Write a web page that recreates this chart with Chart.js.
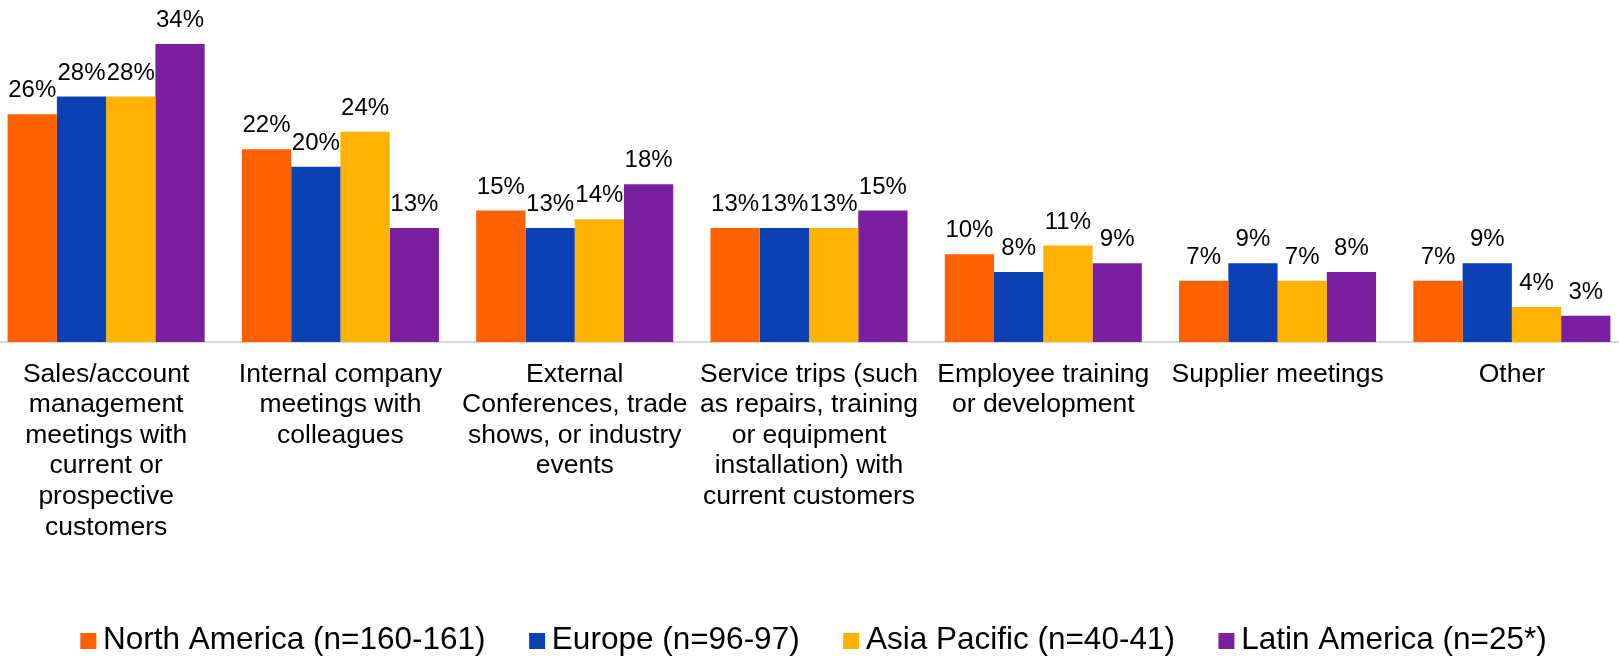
<!DOCTYPE html>
<html>
<head>
<meta charset="utf-8">
<script src="https://cdn.jsdelivr.net/npm/chart.js@4/dist/chart.umd.min.js"></script>
<style>
  html, body { margin: 0; padding: 0; background: #ffffff; overflow: hidden; width: 1619px; height: 660px; }
  #wrap { position: absolute; left: -11px; top: 0; width: 1654px; height: 660px; }
  canvas { display: block; }
</style>
</head>
<body>
<div id="wrap"><canvas id="c" width="1654" height="660"></canvas></div>
<script>
const categories = [
  ["Sales/account", "management", "meetings with", "current or", "prospective", "customers"],
  ["Internal company", "meetings with", "colleagues"],
  ["External", "Conferences, trade", "shows, or industry", "events"],
  ["Service trips (such", "as repairs, training", "or equipment", "installation) with", "current customers"],
  ["Employee training", "or development"],
  ["Supplier meetings"],
  ["Other"]
];
const seriesNames = ["North America (n=160-161)", "Europe (n=96-97)", "Asia Pacific (n=40-41)", "Latin America (n=25*)"];
const northAmerica = [26, 22, 15, 13, 10, 7, 7];
const europe       = [28, 20, 13, 13, 8, 9, 9];
const asiaPacific  = [28, 24, 14, 13, 11, 7, 4];
const latinAmerica = [34, 13, 18, 15, 9, 8, 3];
const seriesColors = ["#FF6100", "#0B41B5", "#FFB300", "#7A1FA0"];

const FONT = "'Liberation Sans', Arial, Helvetica, sans-serif";

// legend swatch images: 16x16 square placed inside a wider transparent canvas
function swatch(color) {
  const c = document.createElement('canvas');
  c.width = 36; c.height = 16;
  const g = c.getContext('2d');
  g.fillStyle = color;
  g.fillRect(12, 0, 16, 16);
  return c;
}
const swatches = seriesColors.map(swatch);

const valueLabels = {
  id: 'valueLabels',
  afterDatasetsDraw(chart) {
    const ctx = chart.ctx;
    ctx.save();
    ctx.font = "24px " + FONT;
    ctx.fillStyle = "#000000";
    ctx.textAlign = "center";
    ctx.textBaseline = "alphabetic";
    chart.data.datasets.forEach((ds, di) => {
      const meta = chart.getDatasetMeta(di);
      meta.data.forEach((bar, i) => {
        ctx.fillText(ds.data[i] + "%", bar.x, bar.y - 17);
      });
    });
    ctx.restore();
  }
};

const allSeries = [northAmerica, europe, asiaPacific, latinAmerica];

new Chart(document.getElementById('c'), {
  type: 'bar',
  data: {
    labels: categories,
    datasets: allSeries.map((d, i) => ({
      label: seriesNames[i],
      data: d,
      backgroundColor: seriesColors[i],
      borderWidth: 0,
      categoryPercentage: 0.841,
      barPercentage: 1.0
    }))
  },
  options: {
    responsive: false,
    animation: false,
    devicePixelRatio: 1,
    layout: { padding: { top: 26.5, left: 0, right: 0, bottom: 0 } },
    plugins: {
      tooltip: { enabled: false },
      legend: {
        position: 'bottom',
        maxHeight: 83.75,
        labels: {
          font: { family: FONT, size: 31.5 },
          color: '#000000',
          usePointStyle: true,
          boxWidth: 2,
          boxHeight: 16,
          padding: 48.5,
          generateLabels(chart) {
            const items = Chart.defaults.plugins.legend.labels.generateLabels(chart);
            items.forEach((it, i) => { it.pointStyle = swatches[i]; it.lineWidth = 0; });
            return items;
          }
        }
      }
    },
    scales: {
      y: {
        display: true,
        position: 'right',
        min: 0,
        max: 36,
        grid: { display: false, drawTicks: false },
        border: { display: false },
        ticks: { display: false },
        afterFit(scale) { scale.width = 14; }
      },
      x: {
        grid: { display: false, drawTicks: false },
        border: { display: true, color: '#d9d9d9', width: 2 },
        ticks: {
          color: '#000000',
          font: { family: FONT, size: 26.5, lineHeight: 1.155 },
          padding: 17,
          maxRotation: 0,
          autoSkip: false
        },
        afterFit(scale) { scale.height = 234.25; }
      }
    }
  },
  plugins: [valueLabels]
});
</script>
</body>
</html>
